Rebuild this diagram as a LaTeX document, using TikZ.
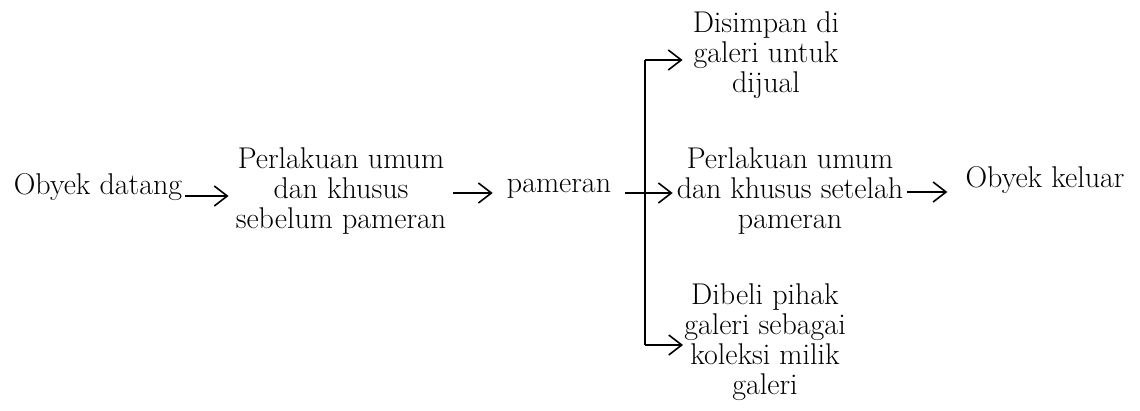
\documentclass[tikz,border=0pt]{standalone}
\usetikzlibrary{arrows.meta}
\begin{document}
\begin{tikzpicture}[x=1pt,y=-1pt,
  lbl/.style={inner sep=0pt,align=center,font=\fontsize{30}{30}\selectfont},
  conn/.style={line width=1.6pt},
  arr/.style={conn,-{Straight Barb[length=13pt,width=20pt,line width=1.6pt]}}]
\useasboundingbox (0,0) rectangle (1140,410);
\node[lbl,anchor=base] (a) at (98,194) {Obyek datang};
\node[lbl] (b) at (341,191.5) {Perlakuan umum\\dan khusus\\sebelum pameran};
\node[lbl,anchor=base] (c) at (559,192) {pameran};
\node[lbl] (d) at (766,55.5) {Disimpan di\\galeri untuk\\dijual};
\node[lbl] (e) at (790,191.5) {Perlakuan umum\\dan khusus setelah\\pameran};
\node[lbl] (f) at (765,342.5) {Dibeli pihak\\galeri sebagai\\koleksi milik\\galeri};
\node[lbl,anchor=base] (g) at (1045,187) {Obyek keluar};
\coordinate (bt) at (645,60);
\coordinate (bb) at (645,345);
\draw[arr,shorten <=3pt,shorten >=7pt] (a.east |- 0,196) -- (b.west |- 0,196);
\draw[arr,shorten <=7pt,shorten >=14pt] (b.east |- 0,193) -- (c.west |- 0,193);
\draw[arr,shorten <=14pt,shorten >=4pt] (c.east |- 0,193) -- (e.west |- 0,193);
\draw[conn] (bt) -- (bb);
\draw[arr,shorten >=10pt] (bt) -- (d.west |- bt);
\draw[arr,shorten >=1pt] (bb) -- (f.west |- bb);
\draw[arr,shorten <=4pt,shorten >=18pt] (e.east |- 0,192) -- (g.west |- 0,192);
\end{tikzpicture}
\end{document}
